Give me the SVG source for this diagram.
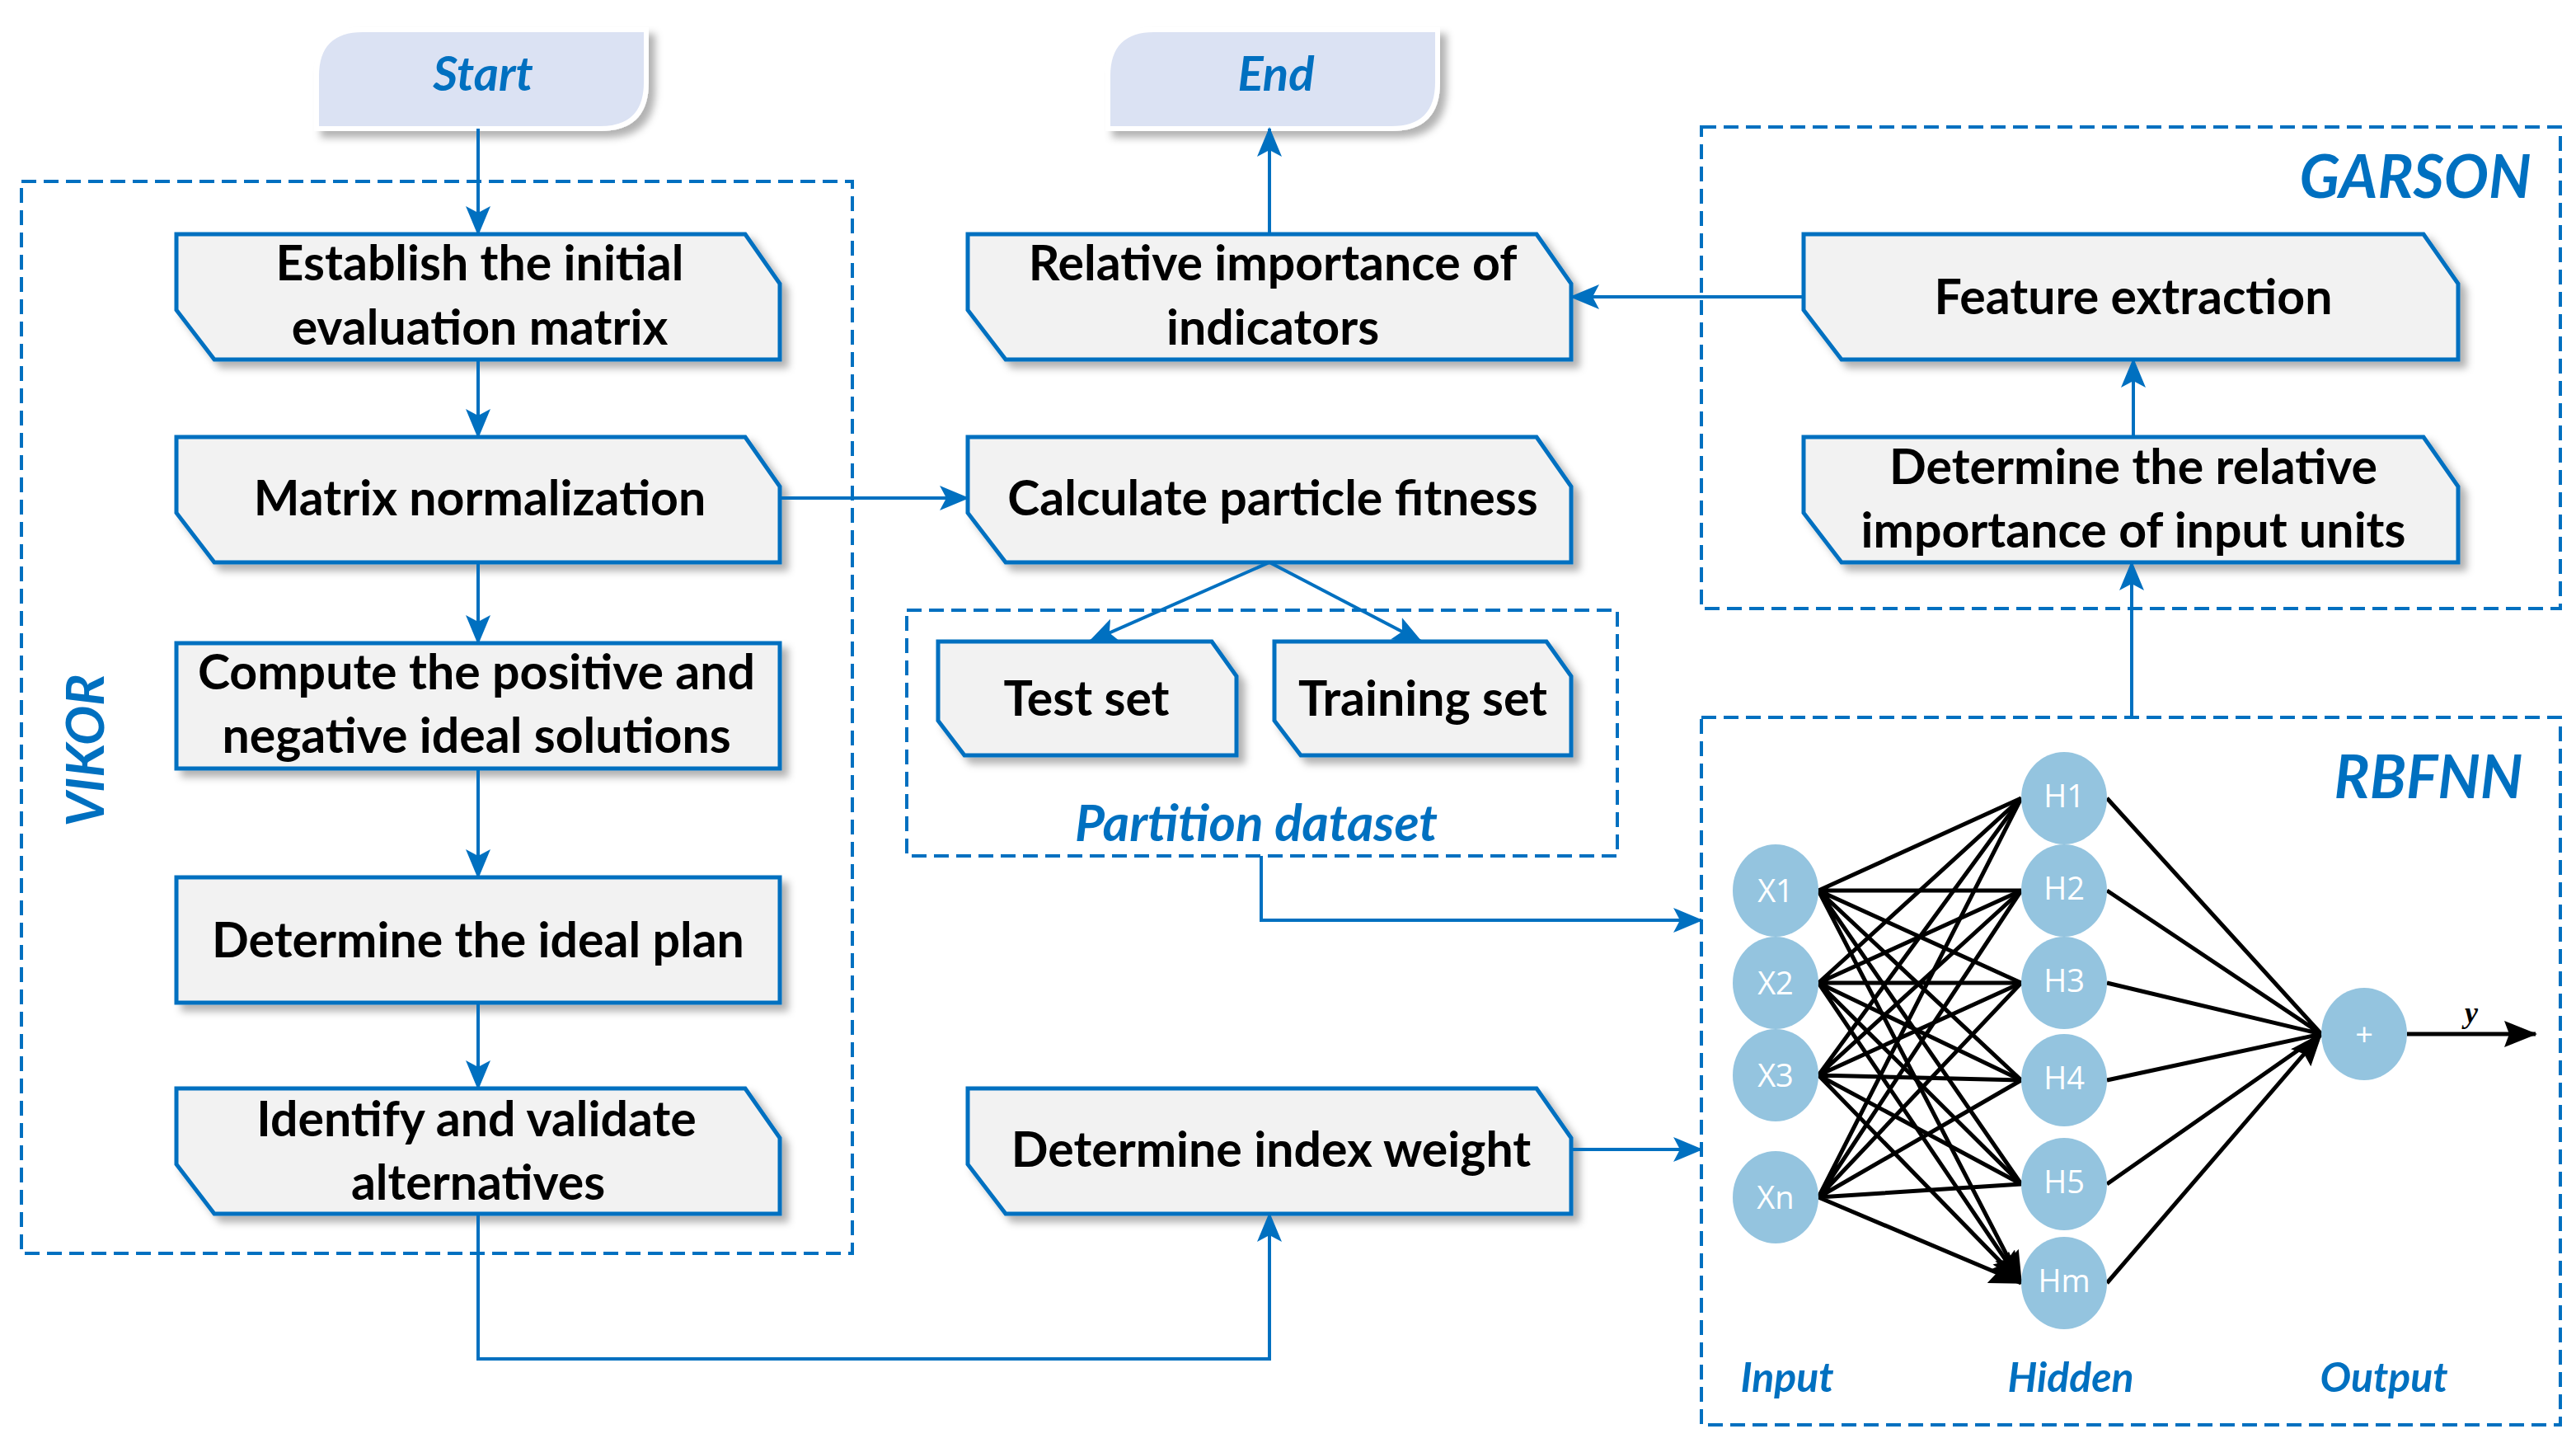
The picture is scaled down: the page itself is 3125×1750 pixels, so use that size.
<svg xmlns="http://www.w3.org/2000/svg" width="3125" height="1750" viewBox="0 0 3125 1750">
<defs>
<style>
.nd{fill:#f2f2f2;stroke:#0070c0;stroke-width:5;filter:url(#sh)}
.t{font-family:Lato,"Noto Sans",sans-serif;font-weight:bold;font-size:59px;fill:#000;text-anchor:middle}
.bl{font-family:Lato,"Noto Sans",sans-serif;font-weight:bold;font-style:italic;fill:#0070c0;text-anchor:middle}
.box{fill:none;stroke:#0070c0;stroke-width:4;stroke-dasharray:18,9}
.c{stroke:#0070c0;stroke-width:4;fill:none}
.k{stroke:#000;stroke-width:5;fill:none;marker-end:url(#ak)}
.cir{fill:#94c4df}
.ct{font-family:"Open Sans",sans-serif;font-size:38px;fill:#fff;text-anchor:middle}
</style>
<filter id="sh" x="-10%" y="-20%" width="130%" height="150%"><feDropShadow dx="8" dy="8" stdDeviation="5" flood-color="#000" flood-opacity="0.3"/></filter>
<marker id="ab" markerUnits="userSpaceOnUse" markerWidth="36" markerHeight="30" refX="34" refY="15" orient="auto"><path d="M0,0 L36,15 L0,30 L8,15 Z" fill="#0070c0"/></marker>
<marker id="ak" markerUnits="userSpaceOnUse" markerWidth="40" markerHeight="32" refX="38" refY="16" orient="auto"><path d="M0,0 L40,16 L0,32 L6,16 Z" fill="#000"/></marker>
</defs>
<g id="vikor"><rect class="box" x="26" y="220" width="1008" height="1300"/><text class="bl" font-size="64" transform="translate(126,910) rotate(-90)">VIKOR</text></g>
<g id="partition"><rect class="box" x="1100" y="740" width="862" height="298"/><text class="bl" font-size="62" x="1524" y="1020">Partition dataset</text></g>
<g id="garson"><rect class="box" x="2064" y="154" width="1042" height="584"/><text class="bl" font-size="72" x="2930" y="240">GARSON</text></g>
<g id="rbfnn"><rect class="box" x="2064" y="870" width="1042" height="858"/><text class="bl" font-size="72" x="2946" y="968">RBFNN</text></g>
<g id="start"><path d="M440,36 H784 V100 Q784,156 728,156 H384 V92 Q384,36 440,36 Z" fill="#dbe2f3" stroke="#fff" stroke-width="6" filter="url(#sh)"/><text class="bl" font-size="58" x="586" y="110">Start</text></g>
<g id="end"><path d="M1400,36 H1744 V100 Q1744,156 1688,156 H1344 V92 Q1344,36 1400,36 Z" fill="#dbe2f3" stroke="#fff" stroke-width="6" filter="url(#sh)"/><text class="bl" font-size="58" x="1548" y="110">End</text></g>
<g id="n1"><path class="nd" d="M214,284 H904 L946,344 V436 H260 L214,376 Z"/><text class="t" x="582" y="340">Establish the initial</text><text class="t" x="582" y="418">evaluation matrix</text></g>
<g id="n2"><path class="nd" d="M214,530 H904 L946,590 V682 H260 L214,622 Z"/><text class="t" x="582" y="625">Matrix normalization</text></g>
<g id="n3"><rect class="nd" x="214" y="780" width="732" height="152"/><text class="t" x="578" y="836">Compute the positive and</text><text class="t" x="578" y="913">negative ideal solutions</text></g>
<g id="n4"><rect class="nd" x="214" y="1064" width="732" height="152"/><text class="t" x="580" y="1161">Determine the ideal plan</text></g>
<g id="n5"><path class="nd" d="M214,1320 H904 L946,1380 V1472 H260 L214,1412 Z"/><text class="t" x="578" y="1378">Identify and validate</text><text class="t" x="580" y="1455">alternatives</text></g>
<g id="m1"><path class="nd" d="M1174,284 H1864 L1906,344 V436 H1220 L1174,376 Z"/><text class="t" x="1544" y="340">Relative importance of</text><text class="t" x="1544" y="418">indicators</text></g>
<g id="m2"><path class="nd" d="M1174,530 H1864 L1906,590 V682 H1220 L1174,622 Z"/><text class="t" x="1544" y="625">Calculate particle fitness</text></g>
<g id="test"><path class="nd" d="M1138,778 H1470 L1500,820 V916 H1170 L1138,874 Z"/><text class="t" x="1318" y="868">Test set</text></g>
<g id="train"><path class="nd" d="M1546,778 H1876 L1906,820 V916 H1578 L1546,874 Z"/><text class="t" x="1726" y="868">Training set</text></g>
<g id="m3"><path class="nd" d="M1174,1320 H1864 L1906,1380 V1472 H1220 L1174,1412 Z"/><text class="t" x="1542" y="1415">Determine index weight</text></g>
<g id="g1"><path class="nd" d="M2188,284 H2940 L2982,344 V436 H2234 L2188,376 Z"/><text class="t" x="2588" y="381">Feature extraction</text></g>
<g id="g2"><path class="nd" d="M2188,530 H2940 L2982,590 V682 H2234 L2188,622 Z"/><text class="t" x="2588" y="587">Determine the relative</text><text class="t" x="2588" y="664">importance of input units</text></g>
<g id="connectors" marker-end="url(#ab)">
<path class="c" d="M580,156 V284"/>
<path class="c" d="M580,436 V530"/>
<path class="c" d="M580,682 V780"/>
<path class="c" d="M580,932 V1064"/>
<path class="c" d="M580,1216 V1320"/>
<path class="c" d="M1540,284 V156"/>
<path class="c" d="M946,604 H1174"/>
<path class="c" d="M1540,682 L1322,778"/>
<path class="c" d="M1540,682 L1724,778"/>
<path class="c" d="M2188,360 H1906"/>
<path class="c" d="M2588,530 V436"/>
<path class="c" d="M2586,870 V682"/>
<path class="c" d="M1530,1038 V1116 H2064"/>
<path class="c" d="M1906,1394 H2064"/>
<path class="c" d="M580,1472 V1648 H1540 V1472"/>
</g>
<g id="net-edges">
<path class="k" d="M2206,1080 L2452,968 M2206,1080 L2452,1080 M2206,1080 L2452,1192 M2206,1080 L2452,1310 M2206,1080 L2452,1436 M2206,1080 L2452,1556"/>
<path class="k" d="M2206,1192 L2452,968 M2206,1192 L2452,1080 M2206,1192 L2452,1192 M2206,1192 L2452,1310 M2206,1192 L2452,1436 M2206,1192 L2452,1556"/>
<path class="k" d="M2206,1304 L2452,968 M2206,1304 L2452,1080 M2206,1304 L2452,1192 M2206,1304 L2452,1310 M2206,1304 L2452,1436 M2206,1304 L2452,1556"/>
<path class="k" d="M2206,1452 L2452,968 M2206,1452 L2452,1080 M2206,1452 L2452,1192 M2206,1452 L2452,1310 M2206,1452 L2452,1436 M2206,1452 L2452,1556"/>
<path class="k" d="M2556,968 L2816,1254 M2556,1080 L2816,1254 M2556,1192 L2816,1254 M2556,1310 L2816,1254 M2556,1436 L2816,1254 M2556,1556 L2816,1254"/>
<path class="k" d="M2920,1254 L3076,1254"/>
</g>
<g id="net-nodes">
<ellipse class="cir" cx="2154" cy="1080" rx="52" ry="56"/><text class="ct" x="2154" y="1094">X1</text>
<ellipse class="cir" cx="2154" cy="1192" rx="52" ry="56"/><text class="ct" x="2154" y="1206">X2</text>
<ellipse class="cir" cx="2154" cy="1304" rx="52" ry="56"/><text class="ct" x="2154" y="1318">X3</text>
<ellipse class="cir" cx="2154" cy="1452" rx="52" ry="56"/><text class="ct" x="2154" y="1466">Xn</text>
<ellipse class="cir" cx="2504" cy="968" rx="52" ry="56"/><text class="ct" x="2504" y="979" font-size="30">H1</text>
<ellipse class="cir" cx="2504" cy="1080" rx="52" ry="56"/><text class="ct" x="2504" y="1091" font-size="30">H2</text>
<ellipse class="cir" cx="2504" cy="1192" rx="52" ry="56"/><text class="ct" x="2504" y="1203" font-size="30">H3</text>
<ellipse class="cir" cx="2504" cy="1310" rx="52" ry="56"/><text class="ct" x="2504" y="1321" font-size="30">H4</text>
<ellipse class="cir" cx="2504" cy="1436" rx="52" ry="56"/><text class="ct" x="2504" y="1447" font-size="30">H5</text>
<ellipse class="cir" cx="2504" cy="1556" rx="52" ry="56"/><text class="ct" x="2504" y="1567" font-size="30">Hm</text>
<ellipse class="cir" cx="2868" cy="1254" rx="52" ry="56"/><text class="ct" x="2868" y="1268" font-size="42">+</text>
<text x="2990" y="1240" font-family="Liberation Serif,serif" font-style="italic" font-weight="bold" font-size="36" fill="#000">y</text>
<text class="bl" font-size="50" x="2168" y="1688">Input</text>
<text class="bl" font-size="50" x="2512" y="1688">Hidden</text>
<text class="bl" font-size="50" x="2892" y="1688">Output</text>
</g>
</svg>
